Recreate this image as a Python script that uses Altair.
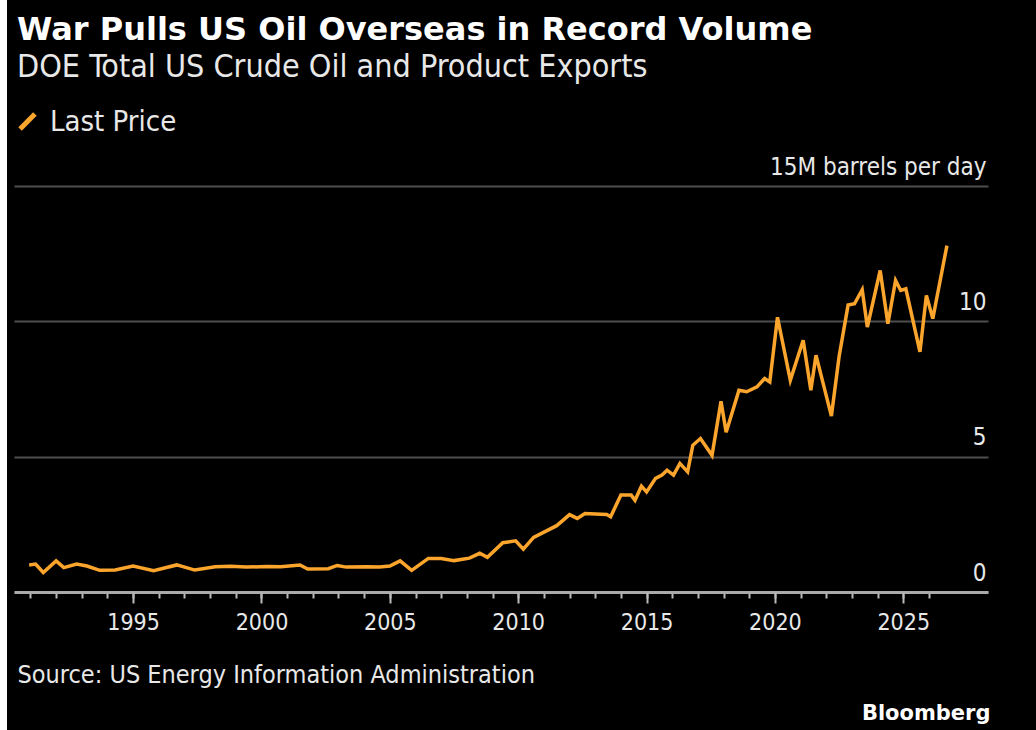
import altair as alt
import pandas as pd

# ---- data (decimal year, million barrels per day) ----
years = [1990.95, 1991.2, 1991.5, 1992.0, 1992.3, 1992.8, 1993.2, 1993.7, 1994.3, 1995.0,
         1995.8, 1996.7, 1997.4, 1998.2, 1998.8, 1999.4, 2000.2, 2000.75, 2001.5, 2001.8,
         2002.6, 2002.95, 2003.3, 2004.1, 2004.6, 2005.0, 2005.4, 2005.85, 2006.5, 2007.0,
         2007.5, 2008.1, 2008.5, 2008.8, 2009.4, 2009.9, 2010.2, 2010.6, 2011.5, 2012.0,
         2012.3, 2012.6, 2013.45, 2013.6, 2014.0, 2014.4, 2014.55, 2014.8, 2015.0, 2015.35,
         2015.6, 2015.8, 2016.05, 2016.3, 2016.6, 2016.8, 2017.1, 2017.55, 2017.9, 2018.1,
         2018.6, 2018.9, 2019.3, 2019.6, 2019.8, 2020.1, 2020.6, 2021.1, 2021.4, 2021.6,
         2022.2, 2022.5, 2022.85, 2023.1, 2023.4, 2023.6, 2024.1, 2024.4, 2024.7, 2024.9,
         2025.1, 2025.65, 2025.9, 2026.15, 2026.7]
exports = [1.0, 1.03, 0.72, 1.15, 0.9, 1.03, 0.96, 0.8, 0.81, 0.96,
           0.79, 1.0, 0.81, 0.93, 0.95, 0.92, 0.94, 0.93, 1.0, 0.85,
           0.86, 0.98, 0.92, 0.93, 0.92, 0.96, 1.15, 0.8, 1.24, 1.24,
           1.16, 1.25, 1.43, 1.28, 1.82, 1.89, 1.58, 2.02, 2.45, 2.86,
           2.72, 2.9, 2.86, 2.78, 3.58, 3.58, 3.39, 3.91, 3.7, 4.2,
           4.32, 4.5, 4.32, 4.75, 4.44, 5.42, 5.67, 5.05, 7.05, 5.9,
           7.45, 7.4, 7.58, 7.89, 7.76, 10.15, 7.82, 9.3, 7.45, 8.75,
           6.5, 8.7, 10.6, 10.65, 11.17, 9.79, 11.88, 9.91, 11.51, 11.14,
           11.2, 8.87, 10.96, 10.1, 12.8]
series = ["Last Price"] * len(years)

minor_years = list(range(1991, 2027))
major_years = [1995, 2000, 2005, 2010, 2015, 2020, 2025]
y_ticks = [0, 5, 10, 15]

TITLE = "War Pulls US Oil Overseas in Record Volume"
SUBTITLE = "DOE Total US Crude Oil and Product Exports"
SOURCE = "Source: US Energy Information Administration"
BRAND = "Bloomberg"

df = pd.DataFrame({"year": years, "exports": exports, "series": series})
majors = pd.DataFrame({"year": major_years})

FONT = "'DejaVu Sans Condensed', 'DejaVu Sans', sans-serif"
BOLD = "'DejaVu Sans', sans-serif"
ORANGE = "#fba52d"
TEXT = "#e8e8e8"

xscale = alt.Scale(domain=[1990.36, 2028.3], nice=False, zero=False)

line = alt.Chart(df).mark_line(strokeWidth=3.5).encode(
    x=alt.X("year:Q", scale=xscale,
            axis=alt.Axis(orient="bottom", values=minor_years, labels=False, grid=False,
                          ticks=True, tickSize=6, tickWidth=2, tickColor="#bbbbbb",
                          domain=True, domainColor="#aaaaaa", domainWidth=3,
                          title=None)),
    y=alt.Y("exports:Q", scale=alt.Scale(domain=[0, 15], nice=False, zero=True),
            axis=alt.Axis(orient="right", values=y_ticks, grid=True, gridColor="#4e4e4e",
                          gridWidth=2, domain=False, ticks=False, tickSize=0,
                          labelAlign="right", labelPadding=-2, labelBaseline="alphabetic",
                          labelOffset=-12, labelFont=FONT, labelFontSize=24, labelColor=TEXT,
                          labelLimit=400,
                          labelExpr="datum.value == 15 ? '15M barrels per day' : datum.label",
                          title=BRAND, titleAngle=0, titleX=2, titleY=533,
                          titleAlign="right", titleBaseline="alphabetic", titleFont=BOLD,
                          titleFontWeight="bold", titleFontSize=21, titleColor="#ffffff")),
    color=alt.Color("series:N", scale=alt.Scale(range=[ORANGE]),
                    legend=alt.Legend(orient="none", legendX=-1, legendY=-79, title=None,
                                      symbolType="M-1,1L1,-1", symbolSize=220,
                                      symbolStrokeWidth=5, labelFont=FONT, labelFontSize=29,
                                      labelColor=TEXT, labelOffset=8)),
)

major_axis = alt.Chart(majors).mark_point(opacity=0).encode(
    x=alt.X("year:Q", scale=xscale,
            axis=alt.Axis(orient="bottom", values=major_years, format="d", grid=False,
                          ticks=True, tickSize=11, tickWidth=2, tickColor="#bbbbbb",
                          domain=False, labelFont=FONT, labelFontSize=23, labelColor=TEXT,
                          labelPadding=8,
                          title=SOURCE, titleX=3, titleY=90, titleAlign="left",
                          titleAnchor="start", titleBaseline="alphabetic", titleFont=FONT,
                          titleFontSize=25, titleFontWeight="normal", titleColor=TEXT)),
)

edge = alt.Chart(majors).mark_rect(color="#ffffff").encode(
    x=alt.value(-14), x2=alt.value(-7), y=alt.value(-186), y2=alt.value(544)
)

chart = alt.layer(edge, line, major_axis).resolve_axis(x="independent").properties(
    width=974, height=406,
    autosize=alt.AutoSizeParams(type="none"),
    padding={"left": 14, "top": 186, "right": 48, "bottom": 138},
    background="#000000",
    title=alt.TitleParams(text=TITLE, subtitle=SUBTITLE, anchor="start", frame="group",
                          font=BOLD, fontSize=32, fontWeight="bold", color="#ffffff",
                          subtitleFont=FONT, subtitleFontSize=32, subtitleColor=TEXT,
                          subtitlePadding=5, dx=3, offset=-84),
).configure_view(stroke=None)

chart.save("out.html", embed_options={"renderer": "svg", "actions": False})
